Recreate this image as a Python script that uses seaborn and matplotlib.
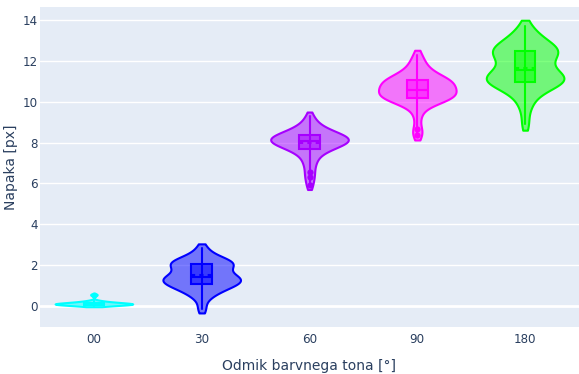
import numpy as np
import pandas as pd
import seaborn as sns
import matplotlib.pyplot as plt
from matplotlib.colors import to_rgb
from matplotlib.patches import Rectangle

categories = ["00", "30", "60", "90", "180"]
colors = ["#00FFFF", "#0000FF", "#A600FF", "#FF00FF", "#00FF00"]

err_00 = [0.0, 0.02, 0.04, 0.05, 0.06, 0.07, 0.08, 0.09, 0.1, 0.1, 0.11, 0.12,
          0.13, 0.14, 0.15, 0.17, 0.19, 0.22, 0.26, 0.55]
err_30 = [-0.15, 0.4, 0.6, 0.75, 0.85, 0.95, 1.0, 1.05, 1.1, 1.2, 1.25, 1.3, 1.3,
          1.35, 1.4, 1.45, 1.5, 1.6, 1.75, 1.85, 1.95, 2.0, 2.05, 2.1, 2.15, 2.2,
          2.25, 2.35, 2.5, 2.85]
err_60 = [5.9, 6.3, 6.55, 6.9, 7.1, 7.3, 7.5, 7.6, 7.68, 7.72, 7.78, 7.85, 7.9,
          7.95, 8.0, 8.0, 8.05, 8.05, 8.1, 8.15, 8.15, 8.2, 8.2, 8.25, 8.25, 8.3,
          8.35, 8.4, 8.45, 8.5, 8.55, 8.6, 8.7, 8.85, 9.0, 9.3]
err_90 = [8.35, 8.65, 9.3, 9.75, 9.95, 10.05, 10.1, 10.12, 10.15, 10.2, 10.25,
          10.3, 10.35, 10.4, 10.45, 10.5, 10.52, 10.55, 10.6, 10.7, 10.8, 10.85,
          10.9, 10.9, 10.95, 11.0, 11.05, 11.1, 11.15, 11.2, 11.3, 11.4, 11.55,
          11.75, 11.95, 12.3]
err_180 = [8.9, 9.7, 10.1, 10.4, 10.6, 10.75, 10.85, 10.9, 10.95, 11.0, 11.05,
           11.1, 11.15, 11.2, 11.25, 11.3, 11.4, 11.5, 11.6, 11.75, 11.9, 12.05,
           12.2, 12.3, 12.35, 12.4, 12.45, 12.55, 12.6, 12.65, 12.75, 12.85, 13.0,
           13.15, 13.35, 13.7]
groups = [err_00, err_30, err_60, err_90, err_180]

df = pd.DataFrame({
    "odmik": np.concatenate([[c] * len(g) for c, g in zip(categories, groups)]),
    "napaka": np.concatenate(groups),
})

txt = "#2a3f5f"
sns.set_theme(style="darkgrid", rc={"axes.facecolor": "#E5ECF6", "grid.color": "white",
                                    "axes.edgecolor": "#E5ECF6"})
plt.rcParams["font.family"] = ["DejaVu Sans"]

fig = plt.figure(figsize=(5.79, 3.74), dpi=100)
ax = fig.add_axes([40 / 579, 47 / 374, 539 / 579, 320 / 374])

sns.violinplot(data=df, x="odmik", y="napaka", hue="odmik", order=categories,
               palette=colors, inner=None, cut=0.7, bw_adjust=0.8,
               density_norm="width", width=0.72, linewidth=1.5, saturation=1,
               legend=False, ax=ax)

for coll, c in zip(ax.collections, colors):
    coll.set_facecolor((*to_rgb(c), 0.5))
    coll.set_edgecolor(c)
    coll.set_linewidth(1.5)

bw = 0.19
for i, (g, c) in enumerate(zip(groups, colors)):
    v = np.array(g)
    q1, med, q3 = np.percentile(v, [25, 50, 75])
    iqr = q3 - q1
    out = v[(v < q1 - 1.5 * iqr) | (v > q3 + 1.5 * iqr)]
    ax.plot([i, i], [v.min(), v.max()], color=c, lw=1.5, zorder=3)
    ax.add_patch(Rectangle((i - bw / 2, q1), bw, q3 - q1, facecolor=(*to_rgb(c), 0.5),
                           edgecolor=c, lw=1.5, zorder=4))
    ax.plot([i - bw / 2, i + bw / 2], [med, med], color=c, lw=1.5, zorder=5)
    ax.plot([i - bw / 2, i + bw / 2], [v.mean(), v.mean()], color=c, lw=1.5, ls=(0, (2, 2)), zorder=5)
    ax.scatter(np.full(len(out), i), out, s=20, color=c, zorder=5, linewidths=0)

ax.axhline(0, color="white", lw=2, zorder=0.5)
ax.set_xlim(-0.5, 4.5)
ax.set_ylim(-1.03, 14.64)
ax.set_yticks(range(0, 15, 2))
ax.grid(axis="x", visible=False)
ax.grid(axis="y", color="white", lw=1)
ax.tick_params(colors=txt, labelsize=8.6, length=0)
ax.tick_params(axis="x", pad=4)
ax.tick_params(axis="y", pad=1.5)
ax.set_xlabel("Odmik barvnega tona [°]", color=txt, fontsize=10, labelpad=10)
ax.set_ylabel("Napaka [px]", color=txt, fontsize=10, labelpad=3)
for s in ax.spines.values():
    s.set_visible(False)

fig.savefig("out.png", dpi=100)
